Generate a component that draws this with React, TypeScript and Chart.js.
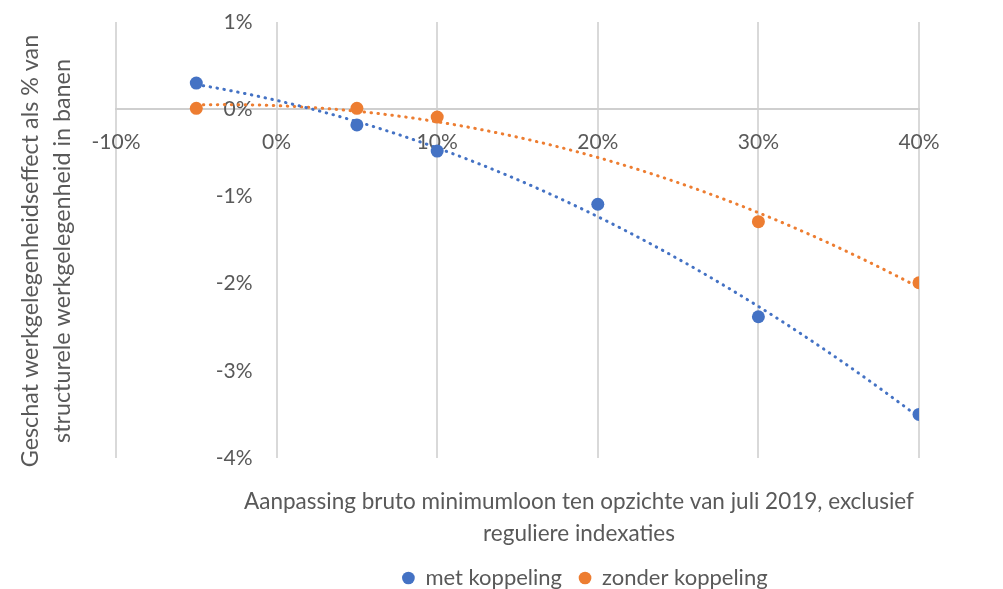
import React, { useEffect, useRef } from "react";
import { Chart, registerables } from "chart.js";

Chart.register(...registerables);

// ---- data ----
const seriesNames = ["met koppeling", "zonder koppeling"];
const xMet = [-5, 5, 10, 20, 30, 40];
const yMet = [0.3, -0.18, -0.48, -1.09, -2.38, -3.5];
const xZonder = [-5, 5, 10, 30, 40];
const yZonder = [0.01, 0.01, -0.09, -1.29, -1.99];
const xTicks = [-10, 0, 10, 20, 30, 40];
const yTicks = [-4, -3, -2, -1, 0, 1];
const yTitle = ["Geschat werkgelegenheidseffect als % van", "structurele werkgelegenheid in banen"];
const xTitle = ["Aanpassing bruto minimumloon ten opzichte van juli 2019, exclusief", "reguliere indexaties"];

const BLUE = "#4472C4";
const ORANGE = "#ED7D31";
const TEXT = "#595959";
const GRID = "#d9d9d9";
const FONT = "Lato";

// least-squares polynomial (order 2) trendline, like Excel's
function polyFit(xs: number[], ys: number[]) {
  const n = 3;
  const A: number[][] = [];
  for (let i = 0; i < n; i++) {
    A.push([]);
    for (let j = 0; j < n; j++) {
      let s = 0;
      for (const x of xs) s += Math.pow(x, i + j);
      A[i].push(s);
    }
    let b = 0;
    xs.forEach((x, k) => (b += Math.pow(x, i) * ys[k]));
    A[i].push(b);
  }
  for (let c = 0; c < n; c++) {
    let p = c;
    for (let r = c + 1; r < n; r++) if (Math.abs(A[r][c]) > Math.abs(A[p][c])) p = r;
    [A[c], A[p]] = [A[p], A[c]];
    for (let r = 0; r < n; r++) {
      if (r === c) continue;
      const f = A[r][c] / A[c][c];
      for (let k = c; k <= n; k++) A[r][k] -= f * A[c][k];
    }
  }
  return A.map((row, i) => row[n] / row[i]);
}

function trend(xs: number[], ys: number[]) {
  const co = polyFit(xs, ys);
  const lo = Math.min(...xs);
  const hi = Math.max(...xs);
  const pts: { x: number; y: number }[] = [];
  const steps = 90;
  for (let i = 0; i <= steps; i++) {
    const x = lo + ((hi - lo) * i) / steps;
    pts.push({ x, y: co[0] + co[1] * x + co[2] * x * x });
  }
  return pts;
}

const toPts = (xs: number[], ys: number[]) => xs.map((x, i) => ({ x, y: ys[i] }));

const shiftPlugin = {
  id: "shiftBoxes",
  afterLayout(chart: any) {
    for (const box of chart.boxes) {
      if (box === chart.legend) {
        const w = box.right - box.left;
        box.left = 585 - w / 2;
        box.right = box.left + w;
      } else if (box.options && box.options.position === "bottom" && box.options.text) {
        box.left = 579 - 420;
        box.right = 579 + 420;
        box.width = 840;
      } else if (box.options && box.options.position === "left" && box.options.text) {
        box.top = 251 - 270;
        box.bottom = 251 + 270;
        box.height = 540;
      }
    }
  },
};

export default function App() {
  const ref = useRef<HTMLCanvasElement | null>(null);
  useEffect(() => {
    document.body.style.margin = "0";
    if (!ref.current) return;
    const chart = new Chart(ref.current, {
      type: "scatter",
      data: {
        datasets: [
          {
            label: seriesNames[0],
            data: toPts(xMet, yMet),
            backgroundColor: BLUE,
            borderColor: BLUE,
            pointRadius: 6.5,
            pointBorderWidth: 0,
          },
          {
            label: seriesNames[1],
            data: toPts(xZonder, yZonder),
            backgroundColor: ORANGE,
            borderColor: ORANGE,
            pointRadius: 6.5,
            pointBorderWidth: 0,
          },
          {
            label: "trend " + seriesNames[0],
            data: trend(xMet, yMet),
            showLine: true,
            borderColor: BLUE,
            borderWidth: 3,
            borderDash: [0.5, 6.5],
            borderCapStyle: "round",
            pointRadius: 0,
          },
          {
            label: "trend " + seriesNames[1],
            data: trend(xZonder, yZonder),
            showLine: true,
            borderColor: ORANGE,
            borderWidth: 3,
            borderDash: [0.5, 6.5],
            borderCapStyle: "round",
            pointRadius: 0,
          },
        ],
      },
      plugins: [shiftPlugin],
      options: {
        animation: false,
        responsive: false,
        devicePixelRatio: 1,
        layout: { padding: { top: 22, right: 84, left: 0, bottom: -10 } },
        scales: {
          x: {
            type: "linear",
            min: -10,
            max: 40,
            position: { y: 0 },
            afterFit: (s: any) => {
              s.height = 0;
            },
            afterBuildTicks: (s: any) => {
              s.ticks = xTicks.map((v) => ({ value: v }));
            },
            grid: { color: GRID, lineWidth: 2, drawTicks: false },
            border: { display: true, color: "#cfcfcf", width: 2 },
            ticks: {
              padding: 20,
              maxRotation: 0,
              color: TEXT,
              font: { family: FONT, size: 21 },
              callback: (v: any) => `${v}%`,
            },
          },
          y: {
            type: "linear",
            min: -4,
            max: 1,
            position: { x: -1.5 },
            afterFit: (s: any) => {
              s.width = 0;
            },
            afterBuildTicks: (s: any) => {
              s.ticks = yTicks.map((v) => ({ value: v }));
            },
            grid: { display: false },
            border: { display: false },
            ticks: {
              color: TEXT,
              font: { family: FONT, size: 21 },
              callback: (v: any) => `${v}%`,
            },
          },
        },
        plugins: {
          tooltip: { enabled: false },
          title: {
            display: true,
            position: "left",
            fullSize: false,
            text: yTitle,
            color: TEXT,
            font: { family: FONT, size: 23.3, weight: "normal", lineHeight: "32px" },
            padding: { top: 14, bottom: 38 },
          },
          subtitle: {
            display: true,
            position: "bottom",
            text: xTitle,
            color: TEXT,
            font: { family: FONT, size: 22.5, weight: "normal", lineHeight: "32px" },
            padding: { top: 28, bottom: 0 },
          },
          legend: {
            display: true,
            position: "bottom",
            weight: 3000,
            labels: {
              usePointStyle: true,
              pointStyle: "circle",
              boxWidth: 12,
              boxHeight: 9,
              padding: 17,
              color: TEXT,
              font: { family: FONT, size: 22 },
              filter: (item: any) => item.datasetIndex < 2,
            },
          },
        },
      } as any,
    });
    return () => chart.destroy();
  }, []);
  return (
    <div style={{ width: 1003, height: 589 }}>
      <canvas ref={ref} width={1003} height={589} style={{ display: "block" }} />
    </div>
  );
}
